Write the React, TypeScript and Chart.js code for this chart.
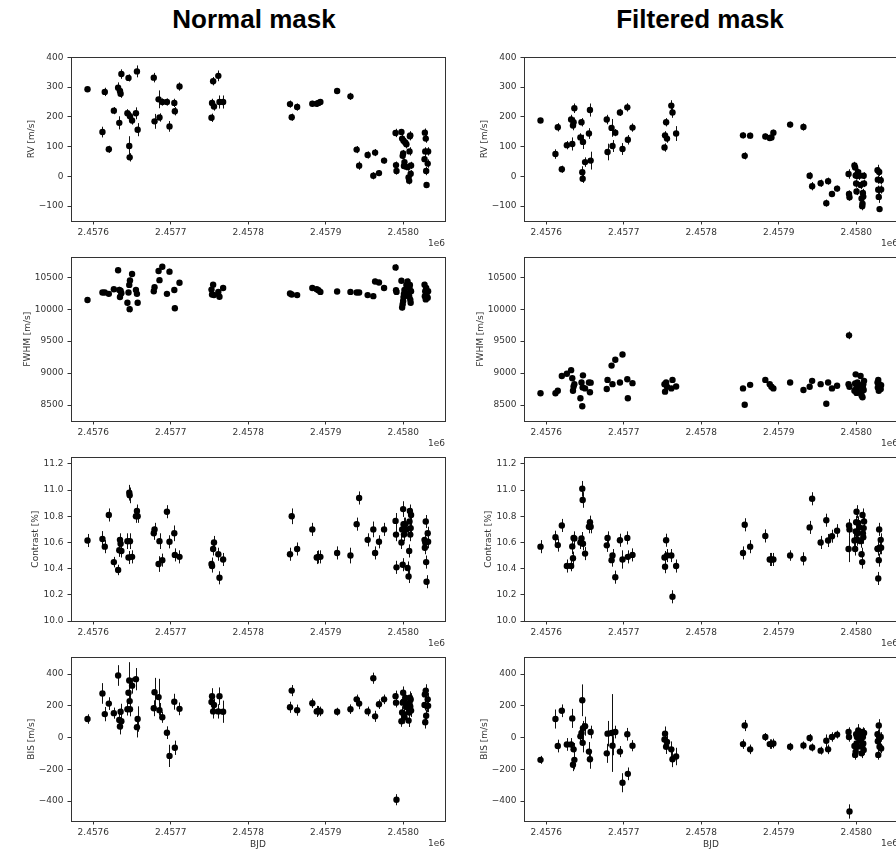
import React, { useEffect, useRef } from "react";
import { Chart, registerables } from "chart.js";

Chart.register(...registerables);

// ---------------- data ----------------
const BJD = [
  2457592.5, 2457611.8, 2457614.8, 2457620.0, 2457626.5, 2457632.0, 2457633.5, 2457634.4, 2457635.2, 2457636.2,
  2457644.0, 2457645.4, 2457646.4, 2457646.9, 2457647.3, 2457650.0, 2457655.0, 2457656.3, 2457657.2,
  2457678.0, 2457679.0, 2457684.2, 2457685.4, 2457689.0, 2457695.0, 2457698.3, 2457704.5, 2457705.2, 2457711.2,
  2457752.5, 2457753.2, 2457754.6, 2457755.7, 2457761.3, 2457762.8, 2457767.5,
  2457853.8, 2457856.0, 2457863.0,
  2457882.6, 2457888.3, 2457890.5, 2457893.0,
  2457914.6, 2457931.8, 2457939.8, 2457943.0, 2457954.0, 2457961.3, 2457963.6, 2457968.6, 2457975.2,
  2457990.0, 2457990.6, 2457991.2, 2457997.6, 2457998.5, 2457999.2, 2457999.8, 2458000.3, 2458000.8, 2458001.5,
  2458002.5, 2458004.0, 2458005.5, 2458006.8, 2458007.6, 2458008.0, 2458008.5, 2458009.0, 2458009.5, 2458010.0,
  2458027.4, 2458027.8, 2458028.3, 2458029.0, 2458029.5, 2458030.0, 2458031.5, 2458032.0,
];

const RV_NORMAL = [
  293, 149, 284, 91, 221, 298, 180, 287, 278, 344, 212, 331, 102, 64, 202, 188, 212, 353, 157,
  332, 185, 259, 198, 250, 250, 168, 247, 219, 302,
  197, 247, 320, 235, 338, 250, 250,
  243, 199, 233,
  244, 244, 247, 250,
  287, 269, 90, 36, 72, 2, 80, 11, 53,
  146, 38, 18, 149, 127, 69, 77, 120, 35, 48, 114, 108, 31, -4, -15, 84, 135, 138, 9, 37,
  58, 147, 84, 127, 18, -29, 43, 84,
];
const RV_NORMAL_ERR = [
  8, 18, 14, 12, 12, 18, 22, 14, 14, 16, 14, 12, 33, 14, 14, 14, 20, 20, 22,
  16, 25, 30, 14, 12, 12, 18, 14, 14, 14,
  14, 14, 14, 14, 18, 22, 22,
  12, 12, 12,
  10, 10, 10, 10,
  10, 12, 12, 14, 12, 12, 12, 10, 10,
  14, 12, 12, 10, 14, 12, 12, 12, 12, 12, 14, 14, 12, 14, 12, 14, 14, 14, 12, 12,
  14, 14, 14, 14, 14, 10, 14, 14,
];
const RV_FILTERED = [
  188, 75, 165, 24, 105, 191, 109, 171, 182, 229, 131, 182, 14, -8, 116, 48, 144, 223, 53,
  191, 82, 163, 102, 147, 215, 92, 232, 123, 164,
  97, 138, 182, 127, 238, 215, 144,
  138, 69, 137,
  134, 129, 131, 147,
  174, 166, 2, -33, -23, -90, -16, -59, -41,
  8, -59, -70, 37, 30, 3, -24, -51, 2, 9, 14, 2, -29, -74, -100, -92, -56, -68, 2, -24,
  21, -11, -45, -69, 15, -110, -13, -44,
];
const RV_FILTERED_ERR = [
  8, 16, 14, 12, 14, 16, 22, 16, 16, 16, 14, 14, 20, 14, 24, 16, 18, 22, 30,
  16, 28, 30, 20, 12, 12, 20, 14, 16, 14,
  14, 14, 14, 14, 18, 18, 25,
  10, 12, 10,
  10, 10, 10, 10,
  10, 12, 12, 14, 12, 12, 12, 10, 10,
  16, 12, 12, 12, 14, 12, 14, 12, 12, 12, 12, 14, 14, 12, 14, 12, 14, 14, 12, 12,
  18, 14, 14, 20, 14, 10, 14, 14,
];

const FWHM_NORMAL = [
  10143, 10260, 10260, 10240, 10311, 10610, 10300, 10190, 10290, 10250, 10100, 10260, 10380, 10000, 10450, 10550, 10300, 10240, 10100,
  10281, 10342, 10597, 10454, 10663, 10240, 10587, 10301, 10015, 10413,
  10306, 10230, 10383, 10220, 10270, 10194, 10332,
  10245, 10230, 10220,
  10332, 10311, 10296, 10270,
  10276, 10270, 10260, 10260, 10220, 10204, 10434, 10418, 10332,
  10653, 10296, 10270, 10444, 10026, 10077, 10128, 10189, 10240, 10300, 10210, 10380, 10434, 10250, 10200, 10330, 10380, 10150, 10100, 10280,
  10383, 10204, 10280, 10153, 10332, 10240, 10180, 10280,
];
const FWHM_NORMAL_ERR = [
  40, 40, 35, 35, 35, 45, 50, 45, 40, 40, 40, 40, 45, 50, 45, 40, 40, 40, 40,
  40, 40, 45, 40, 40, 35, 45, 40, 45, 35,
  40, 40, 40, 40, 40, 45, 40,
  40, 35, 35,
  35, 35, 35, 35,
  35, 35, 35, 35, 35, 40, 40, 40, 35,
  50, 40, 40, 40, 45, 40, 45, 40, 40, 40, 40, 45, 45, 40, 40, 40, 45, 40, 40, 40,
  45, 40, 40, 40, 50, 40, 40, 40,
];
const FWHM_FILTERED = [
  8684, 8684, 8724, 8954, 8990, 9046, 8918, 8724, 8791, 8827, 8607, 8852, 8480, 8776, 8964, 8760, 8852, 8699, 8850,
  8750, 8893, 9117, 8827, 9209, 8852, 9291, 8903, 8607, 8842,
  8827, 8709, 8852, 8786, 8760, 8893, 8791,
  8760, 8505, 8816,
  8893, 8827, 8786, 8760,
  8852, 8735, 8786, 8878, 8827, 8520, 8852, 8760, 8801,
  8827, 9590, 8786, 8724, 8837, 8980, 8750, 8690, 8776, 8852, 8699, 8812, 8954, 8648, 8724, 8622, 8776, 8827, 8735, 8878,
  8852, 8776, 8893, 8724, 8827, 8786, 8750, 8812,
];
const FWHM_FILTERED_ERR = [
  30, 30, 30, 30, 30, 30, 35, 30, 30, 30, 30, 30, 30, 30, 30, 30, 30, 30, 30,
  35, 30, 35, 30, 30, 30, 40, 30, 35, 30,
  30, 30, 30, 30, 30, 30, 30,
  30, 30, 30,
  30, 30, 30, 30,
  30, 30, 30, 30, 30, 35, 30, 30, 30,
  30, 60, 30, 30, 30, 35, 30, 30, 30, 30, 30, 35, 35, 30, 30, 35, 30, 30, 30, 30,
  30, 30, 30, 30, 30, 30, 30, 30,
];

const CONTRAST_NORMAL = [
  10.615, 10.627, 10.568, 10.81, 10.45, 10.39, 10.54, 10.62, 10.59, 10.535, 10.61, 10.485, 10.98, 10.96, 10.61, 10.49, 10.8, 10.84, 10.8,
  10.67, 10.7, 10.435, 10.61, 10.465, 10.835, 10.605, 10.67, 10.505, 10.49,
  10.435, 10.42, 10.55, 10.6, 10.51, 10.33, 10.47,
  10.51, 10.8, 10.55,
  10.7, 10.485, 10.49, 10.49,
  10.52, 10.5, 10.74, 10.94, 10.62, 10.7, 10.52, 10.605, 10.7,
  10.765, 10.66, 10.41, 10.6, 10.7, 10.43, 10.855, 10.74, 10.66, 10.7, 10.74, 10.7, 10.405, 10.34, 10.535, 10.76, 10.84, 10.66, 10.71, 10.81,
  10.62, 10.56, 10.6, 10.76, 10.45, 10.3, 10.67, 10.605,
];
const CONTRAST_NORMAL_ERR = [
  0.05, 0.06, 0.05, 0.05, 0.04, 0.04, 0.05, 0.05, 0.05, 0.05, 0.06, 0.05, 0.06, 0.06, 0.06, 0.05, 0.05, 0.05, 0.05,
  0.05, 0.05, 0.06, 0.06, 0.05, 0.05, 0.05, 0.06, 0.05, 0.05,
  0.05, 0.05, 0.05, 0.05, 0.05, 0.05, 0.05,
  0.05, 0.06, 0.05,
  0.05, 0.05, 0.05, 0.05,
  0.05, 0.06, 0.05, 0.05, 0.05, 0.06, 0.05, 0.05, 0.05,
  0.06, 0.05, 0.05, 0.05, 0.06, 0.05, 0.06, 0.05, 0.05, 0.05, 0.05, 0.05, 0.05, 0.05, 0.05, 0.05, 0.05, 0.05, 0.05, 0.05,
  0.06, 0.05, 0.05, 0.05, 0.05, 0.05, 0.05, 0.05,
];
const CONTRAST_FILTERED = [
  10.568, 10.64, 10.58, 10.73, 10.42, 10.42, 10.57, 10.48, 10.635, 10.63, 10.6, 10.63, 11.01, 10.925, 10.59, 10.515, 10.72, 10.755, 10.72,
  10.578, 10.635, 10.465, 10.5, 10.335, 10.617, 10.47, 10.635, 10.49, 10.505,
  10.485, 10.415, 10.617, 10.5, 10.5, 10.185, 10.42,
  10.52, 10.735, 10.568,
  10.65, 10.47, 10.47, 10.47,
  10.5, 10.475, 10.715, 10.934, 10.6, 10.77, 10.615, 10.648, 10.69,
  10.55, 10.73, 10.7, 10.615, 10.55, 10.685, 10.755, 10.835, 10.625, 10.67, 10.75, 10.715, 10.61, 10.51, 10.45, 10.81, 10.67, 10.64, 10.71, 10.76,
  10.553, 10.55, 10.325, 10.465, 10.7, 10.56, 10.62, 10.56,
];
const CONTRAST_FILTERED_ERR = [
  0.05, 0.05, 0.05, 0.05, 0.05, 0.04, 0.06, 0.05, 0.05, 0.05, 0.05, 0.05, 0.06, 0.06, 0.05, 0.05, 0.05, 0.05, 0.05,
  0.05, 0.05, 0.05, 0.05, 0.05, 0.05, 0.07, 0.05, 0.05, 0.05,
  0.05, 0.05, 0.05, 0.05, 0.05, 0.05, 0.05,
  0.05, 0.05, 0.05,
  0.05, 0.05, 0.05, 0.05,
  0.04, 0.05, 0.05, 0.05, 0.05, 0.05, 0.05, 0.05, 0.05,
  0.1, 0.05, 0.05, 0.05, 0.05, 0.05, 0.05, 0.05, 0.05, 0.05, 0.05, 0.05, 0.05, 0.05, 0.05, 0.05, 0.05, 0.05, 0.05, 0.05,
  0.05, 0.05, 0.05, 0.05, 0.05, 0.05, 0.05, 0.05,
];

const BIS_NORMAL = [
  117, 278, 148, 214, 154, 391, 111, 70, 163, 103, 179, 282, 360, 230, 179, 327, 368, 66, 117,
  185, 286, 255, 173, 128, 31, -115, 226, -64, 181,
  224, 261, 165, 206, 165, 261, 163,
  191, 296, 173,
  216, 165, 169, 165,
  163, 179, 241, 214, 165, 374, 134, 210, 241,
  261, 220, -391, 103, 158, 220, 282, 226, 148, 128, 251, 200, 189, 107, 158, 220, 251, 196, 240, 170,
  206, 272, 97, 296, 138, 200, 241, 200,
];
const BIS_NORMAL_ERR = [
  30, 65, 45, 40, 35, 65, 50, 50, 50, 50, 40, 45, 115, 50, 45, 50, 70, 65, 80,
  50, 90, 115, 45, 35, 40, 70, 50, 45, 40,
  50, 50, 45, 40, 45, 55, 70,
  35, 35, 35,
  30, 35, 30, 30,
  25, 30, 30, 35, 30, 35, 35, 30, 30,
  35, 30, 35, 35, 40, 40, 40, 40, 40, 40, 40, 45, 40, 40, 40, 40, 40, 40, 40, 40,
  35, 40, 40, 40, 40, 40, 40, 40,
];
const BIS_FILTERED = [
  -140, 117, -53, 169, -43, -43, 121, -171, -74, -140, 8, 29, 235, -33, 60, 72, -88, -136, 35,
  -99, 25, 29, -51, 35, -88, -284, 21, -228, -51,
  -12, 25, -58, -27, -74, -136, -119,
  -41, 76, -74,
  4, -41, -41, -37,
  -58, -49, -2, -62, -82, -20, -74, 4, 19,
  35, 4, -465, -53, -109, -88, 21, -37, 4, -58, 45, 14, -20, -99, -58, 35, 4, -37, -78, 29,
  21, -23, -109, 76, 4, -58, 4, -68,
];
const BIS_FILTERED_ERR = [
  25, 60, 40, 40, 40, 40, 60, 40, 40, 60, 50, 60, 100, 60, 45, 60, 60, 60, 40,
  60, 80, 245, 60, 40, 35, 60, 40, 40, 35,
  45, 45, 45, 40, 50, 50, 55,
  30, 35, 30,
  25, 30, 30, 30,
  25, 25, 25, 25, 25, 40, 30, 30, 25,
  30, 30, 45, 30, 30, 30, 40, 30, 30, 30, 40, 40, 30, 30, 30, 30, 30, 30, 30, 30,
  30, 30, 30, 40, 30, 30, 30, 30,
];

const X_TICKS = [2457600, 2457700, 2457800, 2457900, 2458000];
const X_RANGE = [2457571.2, 2458053.8];
const RV_TICKS = [-100, 0, 100, 200, 300, 400];
const FWHM_TICKS = [8500, 9000, 9500, 10000, 10500];
const CONTRAST_TICKS = [10.0, 10.2, 10.4, 10.6, 10.8, 11.0, 11.2];
const BIS_TICKS = [-400, -200, 0, 200, 400];

const COLUMN_TITLES = ["Normal mask", "Filtered mask"];
const ROW_LABELS = ["RV [m/s]", "FWHM [m/s]", "Contrast [%]", "BIS [m/s]"];
const ROW_TICKS = [RV_TICKS, FWHM_TICKS, CONTRAST_TICKS, BIS_TICKS];
const ROW_RANGES = [[-150, 400], [8250, 10810], [10.0, 11.25], [-525, 505]];
const ROW_DECIMALS = [0, 0, 1, 0];
const X_LABEL = "BJD";
const X_OFFSET_TEXT = "1e6";

const SERIES = [
  [[RV_NORMAL, RV_NORMAL_ERR], [RV_FILTERED, RV_FILTERED_ERR]],
  [[FWHM_NORMAL, FWHM_NORMAL_ERR], [FWHM_FILTERED, FWHM_FILTERED_ERR]],
  [[CONTRAST_NORMAL, CONTRAST_NORMAL_ERR], [CONTRAST_FILTERED, CONTRAST_FILTERED_ERR]],
  [[BIS_NORMAL, BIS_NORMAL_ERR], [BIS_FILTERED, BIS_FILTERED_ERR]],
];

// ---------------- layout ----------------
const PLOT_LEFT = [71, 524];
const PLOT_W = 374;
const PLOT_TOP0 = 54;
const ROW_STEP = 200;
const PLOT_H = 167;
const AXIS_W = 64;
const PAD_TOP = 6;
const PAD_RIGHT = 10;
const FONT = '"DejaVu Sans", sans-serif';
const TEXT_COLOR = "#333";
const LINE_COLOR = "#333";

const fmt = (v: number, dec: number) => v.toFixed(dec).replace("-", "\u2212");

function makeDecor(yLabel: string, yTicks: number[], dec: number, bottom: boolean, errs: number[]) {
  return {
    id: "decor",
    beforeDatasetsDraw(chart: any) {
      const ctx = chart.ctx;
      const area = chart.chartArea;
      const ys = chart.scales.y;
      const ds = chart.data.datasets[0];
      const meta = chart.getDatasetMeta(0);
      ctx.save();
      ctx.beginPath();
      ctx.rect(area.left, area.top, area.right - area.left, area.bottom - area.top);
      ctx.clip();
      ctx.strokeStyle = "#111";
      ctx.lineWidth = 1;
      meta.data.forEach((pt: any, i: number) => {
        const v = ds.data[i].y;
        const e = errs[i];
        const x = Math.round(pt.x) + 0.5;
        ctx.beginPath();
        ctx.moveTo(x, ys.getPixelForValue(v - e));
        ctx.lineTo(x, ys.getPixelForValue(v + e));
        ctx.stroke();
      });
      ctx.restore();
    },
    afterDraw(chart: any) {
      const ctx = chart.ctx;
      const a = chart.chartArea;
      ctx.save();
      ctx.strokeStyle = LINE_COLOR;
      ctx.lineWidth = 1;
      ctx.strokeRect(Math.round(a.left) + 0.5, Math.round(a.top) + 0.5, Math.round(a.right - a.left), Math.round(a.bottom - a.top));
      ctx.fillStyle = TEXT_COLOR;
      ctx.font = `9px ${FONT}`;
      ctx.textAlign = "right";
      ctx.textBaseline = "middle";
      ctx.fillText(X_OFFSET_TEXT, a.right, a.bottom + 23);
      if (bottom) {
        ctx.textAlign = "center";
        ctx.fillText(X_LABEL, (a.left + a.right) / 2, a.bottom + 24);
      }
      let maxW = 0;
      yTicks.forEach((t) => {
        maxW = Math.max(maxW, ctx.measureText(fmt(t, dec)).width);
      });
      const lx = a.left - 3.5 - 4 - maxW - 3 - 4.5;
      ctx.translate(lx, (a.top + a.bottom) / 2);
      ctx.rotate(-Math.PI / 2);
      ctx.textAlign = "center";
      ctx.textBaseline = "middle";
      ctx.fillText(yLabel, 0, 0);
      ctx.restore();
    },
  };
}

export default function App() {
  const refs = useRef<(HTMLCanvasElement | null)[]>([]);

  useEffect(() => {
    const charts: Chart[] = [];
    for (let row = 0; row < 4; row++) {
      for (let col = 0; col < 2; col++) {
        const canvas = refs.current[row * 2 + col];
        if (!canvas) continue;
        const [vals, errs] = SERIES[row][col];
        const bottom = row === 3;
        const xAxisH = bottom ? 30 : 28;
        const pts = BJD.map((t, i) => ({ x: t, y: vals[i] }));
        const yTicks = ROW_TICKS[row];
        const dec = ROW_DECIMALS[row];
        const chart = new Chart(canvas, {
          type: "scatter",
          data: {
            datasets: [
              {
                data: pts,
                pointRadius: 3.2,
                pointHoverRadius: 3.2,
                pointBackgroundColor: "#000",
                pointBorderColor: "#000",
                pointBorderWidth: 0,
              } as any,
            ],
          },
          options: {
            animation: false,
            responsive: false,
            events: [],
            layout: { padding: { top: PAD_TOP, right: PAD_RIGHT, left: 0, bottom: 0 } },
            plugins: { legend: { display: false }, tooltip: { enabled: false } },
            scales: {
              x: {
                type: "linear",
                min: X_RANGE[0],
                max: X_RANGE[1],
                afterBuildTicks: (s: any) => {
                  s.ticks = X_TICKS.map((v) => ({ value: v }));
                },
                afterFit: (s: any) => {
                  s.height = xAxisH;
                },
                ticks: {
                  callback: (v: any) => (Number(v) / 1e6).toFixed(4),
                  font: { family: FONT, size: 9 },
                  color: TEXT_COLOR,
                  padding: 2.5,
                  maxRotation: 0,
                  autoSkip: false,
                },
                grid: { display: true, drawOnChartArea: false, drawTicks: true, tickLength: 3.5, color: LINE_COLOR, lineWidth: 1 },
                border: { display: false },
              },
              y: {
                type: "linear",
                min: ROW_RANGES[row][0],
                max: ROW_RANGES[row][1],
                afterBuildTicks: (s: any) => {
                  s.ticks = yTicks.map((v) => ({ value: v }));
                },
                afterFit: (s: any) => {
                  s.width = AXIS_W;
                },
                ticks: {
                  callback: (v: any) => fmt(Number(v), dec),
                  font: { family: FONT, size: 9 },
                  color: TEXT_COLOR,
                  padding: 4,
                  autoSkip: false,
                },
                grid: { display: true, drawOnChartArea: false, drawTicks: true, tickLength: 3.5, color: LINE_COLOR, lineWidth: 1 },
                border: { display: false },
              },
            },
          } as any,
          plugins: [makeDecor(ROW_LABELS[row], yTicks, dec, bottom, errs) as any],
        });
        charts.push(chart);
      }
    }
    return () => charts.forEach((c) => c.destroy());
  }, []);

  const canvases: React.ReactNode[] = [];
  for (let row = 0; row < 4; row++) {
    for (let col = 0; col < 2; col++) {
      const bottom = row === 3;
      const xAxisH = bottom ? 30 : 28;
      const left = PLOT_LEFT[col] - AXIS_W;
      const top = PLOT_TOP0 + ROW_STEP * row - PAD_TOP;
      const w = AXIS_W + PLOT_W + PAD_RIGHT;
      const h = PAD_TOP + PLOT_H + xAxisH;
      const idx = row * 2 + col;
      canvases.push(
        <canvas
          key={idx}
          ref={(el) => {
            refs.current[idx] = el;
          }}
          width={w}
          height={h}
          style={{ position: "absolute", left, top, width: w, height: h, display: "block" }}
        />
      );
    }
  }

  return (
    <div
      style={{
        position: "fixed",
        left: 0,
        top: 0,
        width: 896,
        height: 851,
        overflow: "hidden",
        background: "#fff",
      }}
    >
      {COLUMN_TITLES.map((t, i) => (
        <div
          key={t}
          style={{
            position: "absolute",
            left: (i === 0 ? 254 : 700) - 150,
            width: 300,
            top: 6,
            textAlign: "center",
            fontFamily: '"Liberation Sans", Arial, sans-serif',
            fontWeight: "bold",
            fontSize: 26,
            lineHeight: "26px",
            color: "#000",
          }}
        >
          {t}
        </div>
      ))}
      {canvases}
    </div>
  );
}
